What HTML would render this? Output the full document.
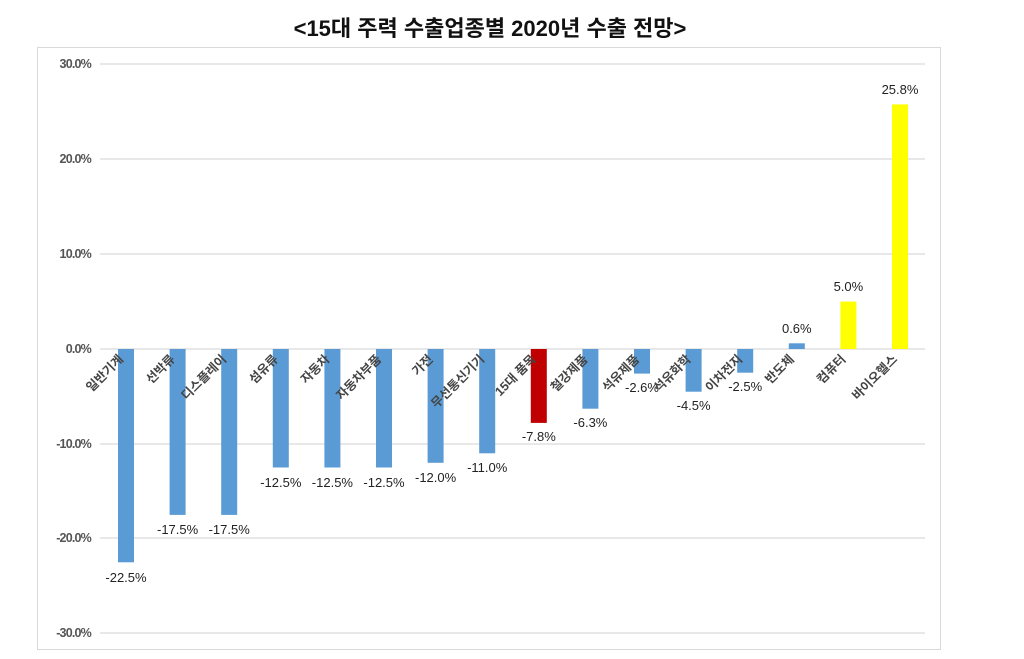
<!DOCTYPE html>
<html><head><meta charset="utf-8"><style>
body{margin:0;background:#fff;}
svg{display:block;}
text{font-family:"Liberation Sans","Noto Sans CJK KR",sans-serif;}
</style></head><body>
<svg width="1024" height="659" viewBox="0 0 1024 659">
<text x="490" y="36" text-anchor="middle" font-size="22" font-weight="bold" fill="#111">&lt;15대 주력 수출업종별 2020년 수출 전망&gt;</text>
<rect x="37.5" y="47.5" width="903" height="602" fill="#fff" stroke="#d9d9d9"/>
<g stroke="#d9d9d9" stroke-width="1.3">
<line x1="100" x2="925" y1="64" y2="64"/><line x1="100" x2="925" y1="159" y2="159"/><line x1="100" x2="925" y1="254" y2="254"/><line x1="100" x2="925" y1="349" y2="349"/><line x1="100" x2="925" y1="444" y2="444"/><line x1="100" x2="925" y1="538" y2="538"/><line x1="100" x2="925" y1="633" y2="633"/>
</g>
<g font-size="12.5" font-weight="bold" fill="#555" text-anchor="end" letter-spacing="-0.8">
<text x="91" y="68">30.0%</text><text x="91" y="163">20.0%</text><text x="91" y="258">10.0%</text><text x="91" y="353">0.0%</text><text x="91" y="448">-10.0%</text><text x="91" y="542">-20.0%</text><text x="91" y="637">-30.0%</text>
</g>
<g>
<rect x="118" y="349" width="16" height="213.3" fill="#5b9bd5"/>
<rect x="169.6" y="349" width="16" height="165.9" fill="#5b9bd5"/>
<rect x="221.2" y="349" width="16" height="165.9" fill="#5b9bd5"/>
<rect x="272.8" y="349" width="16" height="118.5" fill="#5b9bd5"/>
<rect x="324.4" y="349" width="16" height="118.5" fill="#5b9bd5"/>
<rect x="376" y="349" width="16" height="118.5" fill="#5b9bd5"/>
<rect x="427.6" y="349" width="16" height="113.8" fill="#5b9bd5"/>
<rect x="479.2" y="349" width="16" height="104.3" fill="#5b9bd5"/>
<rect x="530.8" y="349" width="16" height="73.9" fill="#c00000"/>
<rect x="582.4" y="349" width="16" height="59.7" fill="#5b9bd5"/>
<rect x="634" y="349" width="16" height="24.6" fill="#5b9bd5"/>
<rect x="685.6" y="349" width="16" height="42.7" fill="#5b9bd5"/>
<rect x="737.2" y="349" width="16" height="23.7" fill="#5b9bd5"/>
<rect x="788.8" y="343.3" width="16" height="5.7" fill="#5b9bd5"/>
<rect x="840.4" y="301.6" width="16" height="47.4" fill="#ffff00"/>
<rect x="892" y="104.4" width="16" height="244.6" fill="#ffff00"/>
</g>
<g font-size="13" fill="#222" text-anchor="middle">
<text x="126" y="582">-22.5%</text>
<text x="177.6" y="534">-17.5%</text>
<text x="229.2" y="534">-17.5%</text>
<text x="280.8" y="487">-12.5%</text>
<text x="332.4" y="487">-12.5%</text>
<text x="384" y="487">-12.5%</text>
<text x="435.6" y="482">-12.0%</text>
<text x="487.2" y="472">-11.0%</text>
<text x="538.8" y="441">-7.8%</text>
<text x="590.4" y="427">-6.3%</text>
<text x="642" y="392">-2.6%</text>
<text x="693.6" y="410">-4.5%</text>
<text x="745.2" y="391">-2.5%</text>
<text x="796.8" y="333">0.6%</text>
<text x="848.4" y="291">5.0%</text>
<text x="900" y="94">25.8%</text>
</g>
<g font-size="12.5" font-weight="bold" fill="#444" text-anchor="end">
<text transform="translate(124,360) rotate(-45)">일반기계</text>
<text transform="translate(175.6,360) rotate(-45)">선박류</text>
<text transform="translate(227.2,360) rotate(-45)">디스플레이</text>
<text transform="translate(278.8,360) rotate(-45)">섬유류</text>
<text transform="translate(330.4,360) rotate(-45)">자동차</text>
<text transform="translate(382,360) rotate(-45)">자동차부품</text>
<text transform="translate(433.6,360) rotate(-45)">가전</text>
<text transform="translate(485.2,360) rotate(-45)">무선통신기기</text>
<text transform="translate(536.8,360) rotate(-45)">15대 품목</text>
<text transform="translate(588.4,360) rotate(-45)">철강제품</text>
<text transform="translate(640,360) rotate(-45)">석유제품</text>
<text transform="translate(691.6,360) rotate(-45)">석유화학</text>
<text transform="translate(743.2,360) rotate(-45)">이차전지</text>
<text transform="translate(794.8,360) rotate(-45)">반도체</text>
<text transform="translate(846.4,360) rotate(-45)">컴퓨터</text>
<text transform="translate(898,360) rotate(-45)">바이오헬스</text>
</g>
</svg>
</body></html>
